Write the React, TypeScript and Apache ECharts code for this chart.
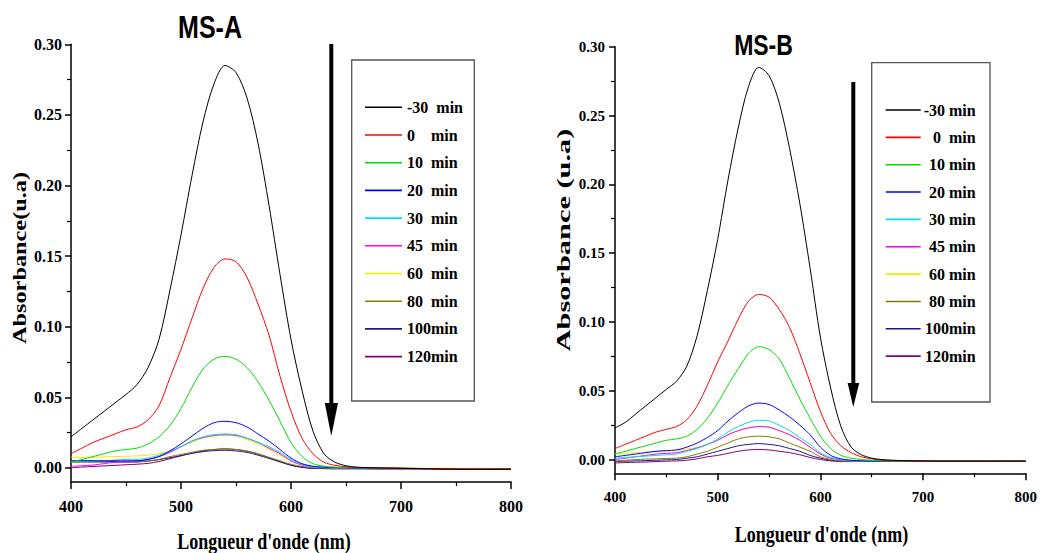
import React, { useEffect, useRef } from "react";
import * as echarts from "echarts";

// ---------- data ----------
const WAVELENGTHS = [
  400, 410, 420, 430, 440, 450, 460, 470, 480, 490, 500, 510, 520, 530, 540, 550, 560, 570, 580, 590,
  600, 610, 620, 630, 640, 650, 660, 680, 700, 720, 740, 760, 780, 800,
];

const X_TICKS = [400, 500, 600, 700, 800];
const Y_TICKS = [0, 0.05, 0.1, 0.15, 0.2, 0.25, 0.3];
const Y_MINOR_TICKS = [0.025, 0.075, 0.125, 0.175, 0.225, 0.275];

const NAMES_A = ["-30  min", "0    min", "10  min", "20  min", "30  min", "45  min", "60  min", "80  min", "100min", "120min"];
const NAMES_B = ["-30 min", "0  min", "10 min", "20 min", "30 min", "45 min", "60 min", "80 min", "100min", "120min"];

const COLORS = ["#000000", "#ff0000", "#00dd00", "#0000ff", "#00e0f0", "#ff00ff", "#eeee00", "#808000", "#1a1a8c", "#800080"];

// MS-A spectra
const A_M30 = [0.022, 0.028, 0.034, 0.04, 0.046, 0.052, 0.059, 0.071, 0.091, 0.126, 0.165, 0.207, 0.245, 0.272, 0.285, 0.28, 0.262, 0.23, 0.186, 0.137, 0.091, 0.055, 0.026, 0.01, 0.004, 0.0015, 0.0005, 0.0, -0.0003, -0.0006, -0.0009, -0.0011, -0.0011, -0.001];
const A_0 = [0.01, 0.014, 0.018, 0.021, 0.024, 0.027, 0.029, 0.034, 0.044, 0.064, 0.084, 0.106, 0.127, 0.142, 0.148, 0.146, 0.135, 0.116, 0.094, 0.065, 0.04, 0.021, 0.01, 0.004, 0.0018, 0.0008, 0.0003, 0.0, -0.0002, -0.0004, -0.0006, -0.0007, -0.0007, -0.0007];
const A_10 = [0.004, 0.006, 0.008, 0.01, 0.012, 0.013, 0.014, 0.017, 0.022, 0.03, 0.042, 0.057, 0.07, 0.077, 0.079, 0.077, 0.071, 0.061, 0.048, 0.033, 0.018, 0.008, 0.003, 0.0012, 0.0005, 0.0002, 0.0, -0.0002, -0.0003, -0.0005, -0.0006, -0.0006, -0.0006, -0.0006];
const A_20 = [0.005, 0.005, 0.005, 0.005, 0.005, 0.005, 0.005, 0.006, 0.008, 0.012, 0.017, 0.0225, 0.028, 0.032, 0.033, 0.032, 0.029, 0.024, 0.019, 0.013, 0.007, 0.003, 0.0012, 0.0005, 0.0002, 0.0, -0.0002, -0.0003, -0.0004, -0.0005, -0.0006, -0.0006, -0.0006, -0.0006];
const A_30 = [0.005, 0.005, 0.005, 0.005, 0.0055, 0.006, 0.006, 0.007, 0.009, 0.012, 0.015, 0.019, 0.022, 0.0235, 0.024, 0.0235, 0.021, 0.018, 0.015, 0.011, 0.006, 0.0025, 0.0008, 0.0003, 0.0, -0.0001, -0.0002, -0.0003, -0.0004, -0.0005, -0.0005, -0.0005, -0.0005, -0.0005];
const A_45 = [0.001, 0.0015, 0.002, 0.003, 0.004, 0.0045, 0.005, 0.006, 0.008, 0.011, 0.015, 0.019, 0.0215, 0.023, 0.0235, 0.023, 0.021, 0.018, 0.014, 0.01, 0.005, 0.002, 0.0008, 0.0003, 0.0, -0.0001, -0.0002, -0.0003, -0.0004, -0.0005, -0.0005, -0.0005, -0.0005, -0.0005];
const A_60 = [0.0075, 0.0075, 0.0075, 0.0078, 0.008, 0.0082, 0.0085, 0.009, 0.01, 0.012, 0.015, 0.018, 0.021, 0.0225, 0.023, 0.0225, 0.02, 0.017, 0.013, 0.009, 0.005, 0.0022, 0.0008, 0.0003, 0.0001, 0.0, 0.0, -0.0001, -0.0002, -0.0003, -0.0003, -0.0004, -0.0004, -0.0004];
const A_80 = [0.004, 0.004, 0.004, 0.004, 0.004, 0.004, 0.0042, 0.005, 0.006, 0.008, 0.0095, 0.011, 0.0125, 0.013, 0.0134, 0.013, 0.012, 0.01, 0.0075, 0.005, 0.0025, 0.001, 0.0002, -0.0002, -0.0003, -0.0004, -0.0004, -0.0005, -0.0005, -0.0006, -0.0006, -0.0006, -0.0006, -0.0006];
const A_100 = [0.005, 0.005, 0.0048, 0.0046, 0.0044, 0.0042, 0.0042, 0.0048, 0.0058, 0.0072, 0.0088, 0.0103, 0.0115, 0.0122, 0.0125, 0.012, 0.011, 0.009, 0.0067, 0.0042, 0.0018, 0.0004, -0.0003, -0.0005, -0.0006, -0.0006, -0.0006, -0.0007, -0.0007, -0.0007, -0.0008, -0.0008, -0.0008, -0.0008];
const A_120 = [0.0, 0.0006, 0.001, 0.0014, 0.0018, 0.0022, 0.0026, 0.0032, 0.0045, 0.0065, 0.0085, 0.0105, 0.012, 0.013, 0.0135, 0.013, 0.0118, 0.0098, 0.0072, 0.0046, 0.002, 0.0004, -0.0003, -0.0005, -0.0006, -0.0006, -0.0006, -0.0007, -0.0007, -0.0007, -0.0008, -0.0008, -0.0008, -0.0008];

// MS-B spectra
const B_M30 = [0.023, 0.027, 0.033, 0.039, 0.045, 0.051, 0.057, 0.068, 0.09, 0.123, 0.16, 0.203, 0.241, 0.271, 0.285, 0.279, 0.259, 0.226, 0.186, 0.139, 0.089, 0.052, 0.024, 0.009, 0.0035, 0.001, 0.0, -0.0008, -0.001, -0.0012, -0.0012, -0.0012, -0.0012, -0.0012];
const B_0 = [0.008, 0.011, 0.014, 0.017, 0.02, 0.022, 0.024, 0.029, 0.039, 0.054, 0.071, 0.086, 0.102, 0.115, 0.12, 0.118, 0.109, 0.096, 0.077, 0.056, 0.035, 0.019, 0.01, 0.005, 0.002, 0.0005, -0.0005, -0.001, -0.0012, -0.0012, -0.0012, -0.0012, -0.0012, -0.0012];
const B_10 = [0.004, 0.006, 0.008, 0.01, 0.012, 0.014, 0.015, 0.017, 0.022, 0.03, 0.041, 0.054, 0.066, 0.077, 0.082, 0.08, 0.073, 0.059, 0.044, 0.03, 0.017, 0.008, 0.003, 0.001, 0.0, -0.0005, -0.001, -0.0012, -0.0012, -0.0012, -0.0012, -0.0012, -0.0012, -0.0012];
const B_20 = [0.002, 0.003, 0.004, 0.005, 0.006, 0.0065, 0.007, 0.009, 0.012, 0.016, 0.021, 0.028, 0.034, 0.039, 0.041, 0.04, 0.036, 0.031, 0.025, 0.018, 0.009, 0.003, 0.0005, -0.0005, -0.001, -0.0012, -0.0012, -0.0012, -0.0012, -0.0012, -0.0012, -0.0012, -0.0012, -0.0012];
const B_30 = [0.001, 0.0015, 0.002, 0.0025, 0.003, 0.0035, 0.004, 0.006, 0.008, 0.011, 0.015, 0.02, 0.024, 0.027, 0.0285, 0.028, 0.025, 0.021, 0.016, 0.011, 0.005, 0.0015, 0.0, -0.0008, -0.001, -0.0012, -0.0012, -0.0012, -0.0012, -0.0012, -0.0012, -0.0012, -0.0012, -0.0012];
const B_45 = [0.0, 0.001, 0.002, 0.003, 0.004, 0.0045, 0.005, 0.0065, 0.0085, 0.011, 0.014, 0.018, 0.021, 0.023, 0.024, 0.0235, 0.021, 0.018, 0.014, 0.009, 0.004, 0.001, -0.0002, -0.0008, -0.001, -0.0012, -0.0012, -0.0012, -0.0012, -0.0012, -0.0012, -0.0012, -0.0012, -0.0012];
const B_60 = [0.004, 0.0045, 0.005, 0.0055, 0.006, 0.0062, 0.0065, 0.0075, 0.009, 0.011, 0.014, 0.018, 0.021, 0.023, 0.024, 0.0235, 0.021, 0.018, 0.014, 0.009, 0.004, 0.001, -0.0002, -0.0008, -0.001, -0.0012, -0.0012, -0.0012, -0.0012, -0.0012, -0.0012, -0.0012, -0.0012, -0.0012];
const B_80 = [-0.001, -0.0005, 0.0, 0.0003, 0.0005, 0.0008, 0.001, 0.002, 0.004, 0.006, 0.009, 0.012, 0.015, 0.0165, 0.017, 0.0165, 0.015, 0.012, 0.009, 0.006, 0.002, 0.0, -0.001, -0.0012, -0.0012, -0.0012, -0.0012, -0.0012, -0.0012, -0.0012, -0.0012, -0.0012, -0.0012, -0.0012];
const B_100 = [-0.0015, -0.0012, -0.001, -0.0008, -0.0005, -0.0002, 0.0, 0.001, 0.002, 0.004, 0.006, 0.008, 0.01, 0.011, 0.0116, 0.011, 0.01, 0.008, 0.006, 0.003, 0.001, -0.0005, -0.001, -0.0012, -0.0012, -0.0012, -0.0012, -0.0012, -0.0012, -0.0012, -0.0012, -0.0012, -0.0012, -0.0012];
const B_120 = [-0.0025, -0.0022, -0.002, -0.0018, -0.0015, -0.0012, -0.001, -0.0005, 0.0005, 0.002, 0.003, 0.0045, 0.006, 0.007, 0.0073, 0.007, 0.006, 0.005, 0.0035, 0.0015, 0.0, -0.001, -0.0015, -0.0015, -0.0014, -0.0013, -0.0013, -0.0013, -0.0013, -0.0013, -0.0013, -0.0013, -0.0013, -0.0013];

const SPECTRA_A = [A_M30, A_0, A_10, A_20, A_30, A_45, A_60, A_80, A_100, A_120];
const SPECTRA_B = [B_M30, B_0, B_10, B_20, B_30, B_45, B_60, B_80, B_100, B_120];

// ---------- styling ----------
const SERIF = "'Liberation Serif', 'Times New Roman', serif";
const SANS = "'Liberation Sans', Arial, sans-serif";

function makeXAxis(gridIndex: number, fontSize: number, margin: number) {
  return {
    type: "value",
    gridIndex,
    min: X_TICKS[0],
    max: X_TICKS[X_TICKS.length - 1],
    interval: 100,
    axisLine: { show: true, onZero: false, lineStyle: { color: "#000", width: 1.5 } },
    axisTick: { show: true, length: 7, lineStyle: { color: "#000", width: 1.5 } },
    minorTick: { show: true, splitNumber: 2, length: 4, lineStyle: { color: "#000", width: 1.2 } },
    splitLine: { show: false },
    minorSplitLine: { show: false },
    axisLabel: { color: "#000", fontFamily: SERIF, fontWeight: "bold", fontSize, margin },
  };
}

function makeYAxes(gridIndex: number, fontSize: number, margin: number) {
  return [
    {
      type: "value",
      gridIndex,
      position: "left",
      min: -0.01,
      max: 0.3,
      axisLine: { show: true, onZero: false, lineStyle: { color: "#000", width: 1.5 } },
      axisTick: { show: true, length: 6, customValues: Y_TICKS, lineStyle: { color: "#000", width: 1.5 } },
      axisLabel: {
        customValues: Y_TICKS,
        formatter: (v: number) => v.toFixed(2),
        color: "#000",
        fontFamily: SERIF,
        fontWeight: "bold",
        fontSize,
        margin,
      },
      splitLine: { show: false },
    },
    {
      type: "value",
      gridIndex,
      position: "left",
      min: -0.01,
      max: 0.3,
      axisLine: { show: false, onZero: false },
      axisTick: { show: true, length: 4, customValues: Y_MINOR_TICKS, lineStyle: { color: "#000", width: 1.2 } },
      axisLabel: { show: false },
      splitLine: { show: false },
    },
  ];
}

function makeSeries(spectra: number[][], names: string[], axisX: number, axisY: number) {
  return spectra.map((vals, i) => ({
    type: "line",
    name: names[i],
    xAxisIndex: axisX,
    yAxisIndex: axisY,
    data: WAVELENGTHS.map((w, j) => [w, vals[j]]),
    symbol: "none",
    showSymbol: false,
    smooth: 0.3,
    silent: true,
    z: 20 - i,
    lineStyle: { width: 1, color: COLORS[i] },
    itemStyle: { color: COLORS[i] },
  }));
}

export default function App() {
  const ref = useRef<HTMLDivElement>(null);

  useEffect(() => {
    if (!ref.current) return;
    const chart = echarts.init(ref.current, undefined, { renderer: "svg" });

    const option: any = {
      animation: false,
      backgroundColor: "#fff",
      grid: [
        { left: 71, top: 44.3, width: 440, height: 437.7 },
        { left: 615, top: 46.7, width: 412.7, height: 426.6 },
      ],
      xAxis: [makeXAxis(0, 16, 16), makeXAxis(1, 15, 16)],
      yAxis: [...makeYAxes(0, 16, 9), ...makeYAxes(1, 15, 10)],
      legend: [
        {
          data: NAMES_A,
          orient: "vertical",
          left: 365,
          top: 99.3,
          padding: 0,
          icon: "rect",
          itemWidth: 37,
          itemHeight: 1.6,
          itemGap: 11.7,
          selectedMode: false,
          textStyle: { color: "#000", fontFamily: SERIF, fontWeight: "bold", fontSize: 16, lineHeight: 16 },
        },
        {
          data: NAMES_B,
          orient: "vertical",
          left: 885.7,
          top: 102,
          padding: 0,
          icon: "rect",
          itemWidth: 35,
          itemHeight: 1.6,
          itemGap: 11.35,
          selectedMode: false,
          formatter: (name: string) => `{r|${name}}`,
          textStyle: {
            color: "#000",
            fontFamily: SERIF,
            fontWeight: "bold",
            fontSize: 16,
            lineHeight: 16,
            width: 50,
            rich: {
              r: { align: "right", color: "#000", fontFamily: SERIF, fontWeight: "bold", fontSize: 16, lineHeight: 16 },
            },
          },
        },
      ],
      graphic: [
        // legend frames
        { type: "rect", shape: { x: 351.7, y: 60, width: 122.6, height: 341 }, style: { fill: "none", stroke: "#555", lineWidth: 1.3 }, silent: true },
        { type: "rect", shape: { x: 871.7, y: 62.7, width: 118.3, height: 339.3 }, style: { fill: "none", stroke: "#555", lineWidth: 1.3 }, silent: true },
        // arrows
        { type: "rect", shape: { x: 329.3, y: 44, width: 4, height: 362 }, style: { fill: "#000" }, silent: true },
        { type: "polygon", shape: { points: [[324.8, 403], [338, 403], [331.3, 436]] }, style: { fill: "#000" }, silent: true },
        { type: "rect", shape: { x: 851.3, y: 82, width: 4, height: 303 }, style: { fill: "#000" }, silent: true },
        { type: "polygon", shape: { points: [[847.6, 383], [859.2, 383], [853.3, 407]] }, style: { fill: "#000" }, silent: true },
        // titles
        { type: "text", x: 210, y: 28, scaleY: 1.23, style: { text: "MS-A", font: `bold 25px ${SANS}`, fill: "#000", align: "center", verticalAlign: "middle" }, silent: true },
        { type: "text", x: 763.5, y: 45.5, scaleY: 1.27, style: { text: "MS-B", font: `bold 23px ${SANS}`, fill: "#000", align: "center", verticalAlign: "middle" }, silent: true },
        // axis titles
        { type: "text", x: 264, y: 541, scaleY: 1.25, style: { text: "Longueur d'onde (nm)", font: `bold 18px ${SERIF}`, fill: "#000", align: "center", verticalAlign: "middle" }, silent: true },
        { type: "text", x: 821.5, y: 534, scaleY: 1.3, style: { text: "Longueur d'onde (nm)", font: `bold 18px ${SERIF}`, fill: "#000", align: "center", verticalAlign: "middle" }, silent: true },
        { type: "text", x: 20, y: 258, rotation: Math.PI / 2, scaleX: 1.28, style: { text: "Absorbance(u.a)", font: `bold 19px ${SERIF}`, fill: "#000", align: "center", verticalAlign: "middle" }, silent: true },
        { type: "text", x: 563.5, y: 240, rotation: Math.PI / 2, scaleX: 1.6, style: { text: "Absorbance (u.a)", font: `bold 19px ${SERIF}`, fill: "#000", align: "center", verticalAlign: "middle" }, silent: true },
      ],
      series: [...makeSeries(SPECTRA_A, NAMES_A, 0, 0), ...makeSeries(SPECTRA_B, NAMES_B, 1, 2)],
    };

    chart.setOption(option);
    return () => chart.dispose();
  }, []);

  return (
    <div
      ref={ref}
      style={{ position: "absolute", left: 0, top: 0, width: 1040, height: 553 }}
    />
  );
}
